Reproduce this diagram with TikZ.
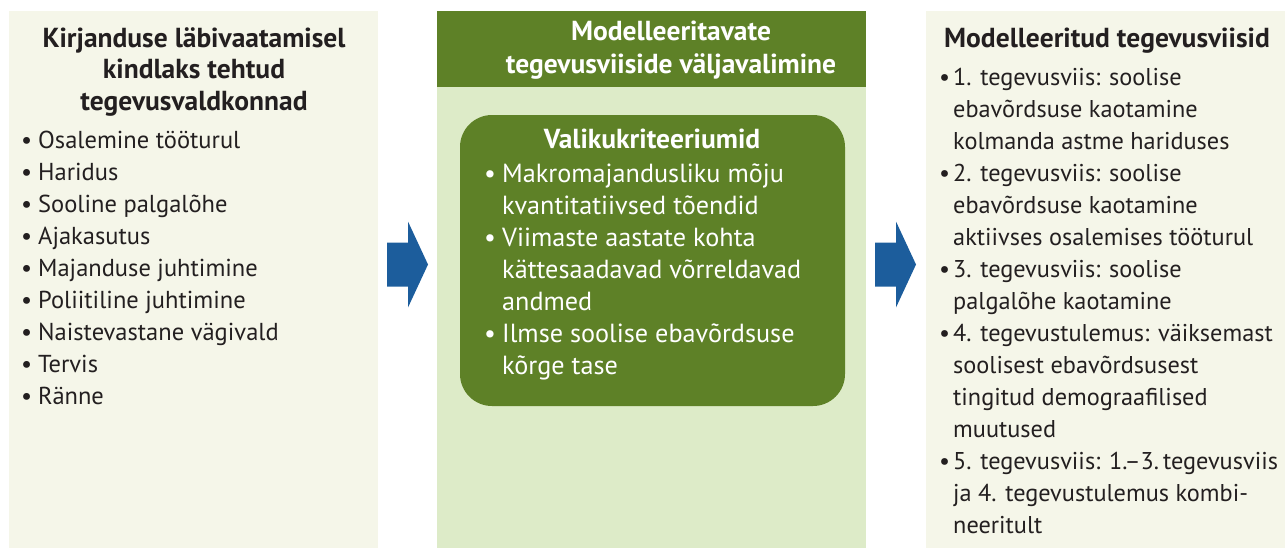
\documentclass[tikz,border=0pt]{standalone}
\usepackage{fontspec}
\setmainfont{PT Sans}
\definecolor{panelbg}{HTML}{F5F6E9}
\definecolor{midbg}{HTML}{DDEBC8}
\definecolor{dkgreen}{HTML}{5E8127}
\definecolor{arrowblue}{HTML}{1C5D9C}
\definecolor{txt}{HTML}{231F20}
\newcommand\blist[2]{\fontsize{#1}{32}\selectfont\begin{tabular}[t]{@{}l@{}l@{}}#2\end{tabular}}
\newcommand\bb[1]{\makebox[#1pt][l]{\textbullet}}
\tikzset{
  panel/.style={fill=panelbg, draw=none, inner sep=0pt, outer sep=0pt, anchor=north west},
  heading/.style={text=txt, font=\bfseries\fontsize{27.5}{31.5}\selectfont, align=center, inner sep=0pt},
  whiteheading/.style={text=white, font=\bfseries\fontsize{27.5}{33}\selectfont, align=center, inner sep=0pt},
  listtext/.style={text=txt, inner sep=0pt, anchor=base west},
  blockarrow/.style={fill=arrowblue, draw=none}
}
\begin{document}
\begin{tikzpicture}[x=1pt,y=-1pt]
\useasboundingbox (0,0) rectangle (1285,550);
% panels
\node[panel, minimum width=369pt, minimum height=537pt] (left) at (9,11) {};
\node[panel, fill=midbg, minimum width=429pt, minimum height=537pt] (mid) at (437,11) {};
\node[panel, fill=dkgreen, minimum width=429pt, minimum height=76pt] (midhead) at (437,11) {};
\node[panel, minimum width=359pt, minimum height=537pt] (right) at (926,11) {};
\node[panel, fill=dkgreen, rounded corners=32pt, minimum width=385pt, minimum height=291pt] (crit) at (460,115) {};
% block arrows
\coordinate (a1) at (387,220);
\coordinate (a2) at (875,220);
\foreach \p in {a1,a2}{
  \fill[blockarrow] ([yshift=-22.5pt]\p) -- ++(21,0) -- ++(0,-21) -- ++(20,43) -- ++(-20,43) -- ++(0,-21) -- ++(-21,0) -- cycle;
}
% left panel text
\node[heading, anchor=base] (lhead) at (194,110) {Kirjanduse läbivaatamisel\\kindlaks tehtud\\tegevusvaldkonnad};
\node[listtext] (llist) at (21,148) {\blist{24.5}{%
\bb{17}&Osalemine tööturul\\
\bb{17}&Haridus\\
\bb{17}&Sooline palgalõhe\\
\bb{17}&Ajakasutus\\
\bb{17}&Majanduse juhtimine\\
\bb{17}&Poliitiline juhtimine\\
\bb{17}&Naistevastane vägivald\\
\bb{17}&Tervis\\
\bb{17}&Ränne}};
% middle header
\node[whiteheading, anchor=base] (mhead) at (671,73) {Modelleeritavate\\tegevusviiside väljavalimine};
% criteria box text
\node[whiteheading, anchor=base] (chead) at (652,148) {Valikukriteeriumid};
\node[listtext, text=white] (clist) at (484,182) {\blist{26.2}{%
\bb{18}&Makromajandusliku mõju\\
&kvantitatiivsed tõendid\\
\bb{18}&Viimaste aastate kohta\\
&kättesaadavad võrreldavad\\
&andmed\\
\bb{18}&Ilmse soolise ebavõrdsuse\\
&kõrge tase}};
% right panel text
\node[heading, anchor=base] (rhead) at (1107,47) {Modelleeritud tegevusviisid};
\node[listtext] (rlist) at (939,85) {\blist{24.3}{%
\bb{14}&1. tegevusviis: soolise\\
&ebavõrdsuse kaotamine\\
&kolmanda astme hariduses\\
\bb{14}&2. tegevusviis: soolise\\
&ebavõrdsuse kaotamine\\
&aktiivses osalemises tööturul\\
\bb{14}&3. tegevusviis: soolise\\
&palgalõhe kaotamine\\
\bb{14}&4. tegevustulemus: väiksemast\\
&soolisest ebavõrdsusest\\
&tingitud demograafilised\\
&muutused\\
\bb{14}&5. tegevusviis: 1.–3.\,tegevusviis\\
&ja 4. tegevustulemus kombi-\\
&neeritult}};
\end{tikzpicture}
\end{document}
